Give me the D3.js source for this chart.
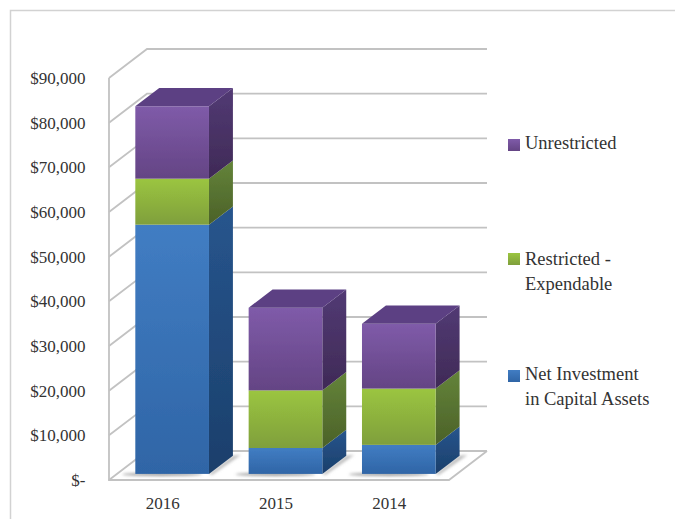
<!DOCTYPE html>
<html><head><meta charset="utf-8">
<script src="https://cdn.jsdelivr.net/npm/d3@7"></script>
<style>html,body{margin:0;padding:0;background:#fff}svg{display:block}text{font-family:"Liberation Serif",serif;fill:#333}</style>
</head><body><div id="c"></div>
<script>
const categories=["2016","2015","2014"];
const netInvestment=[55800,5800,6500];
const restricted=[10300,12900,12600];
const unrestricted=[16200,18500,14500];
const yTickValues=[0,10000,20000,30000,40000,50000,60000,70000,80000,90000];
const seriesNames=["Net Investment","Restricted","Unrestricted"];
const seriesValues=[netInvestment,restricted,unrestricted];
const palette=[
 {front:["#417dc3","#2f65a6"],side:["#27558d","#1b3f6b"]},
 {front:["#9bc540","#7f9f3c"],side:["#64843a","#4b6128"]},
 {front:["#7f5ba9","#644484"],side:["#523a74","#3f2a56"]}];
const topColor="#5b3f83";
const legendItems=[
 {lines:["Unrestricted"],s:2,y:145,t:149},
 {lines:["Restricted -","Expendable"],s:1,y:259,t:265},
 {lines:["Net Investment","in Capital Assets"],s:0,y:376,t:380}];

const W=675,H=519;
const svg=d3.select("#c").append("svg").attr("width",W).attr("height",H);
const defs=svg.append("defs");
defs.append("filter").attr("id","soft").append("feGaussianBlur").attr("stdDeviation",0.4);
defs.append("filter").attr("id","shadow").attr("x","-20%").attr("y","-200%").attr("width","140%").attr("height","500%").append("feGaussianBlur").attr("stdDeviation",1.5);
palette.forEach((p,i)=>["front","side"].forEach(k=>{
  const g=defs.append("linearGradient").attr("id",k+i).attr("x1",0).attr("y1",0).attr("x2",0).attr("y2",1);
  g.append("stop").attr("offset",0).attr("stop-color",p[k][0]);
  g.append("stop").attr("offset",1).attr("stop-color",p[k][1]);
}));

// frame
svg.append("path").attr("d",`M10.5,${H}V10.5H${W}`).attr("fill","none").attr("stroke","#d2d2d2").attr("stroke-width",1.5);

const x=d3.scaleBand().domain(categories).range([109,449]).padding(0);
const y=d3.scaleLinear().domain([0,90000]).range([480,78]);
const z=d3.scaleLinear().domain([0,1]).range([0,38]);
const zy=d3.scaleLinear().domain([0,1]).range([0,29]);
const barW=x.bandwidth()*0.65;
const z0=0.21,z1=0.84;
const X=(px,d)=>px+z(d);
const Y=(v,d)=>y(v)-zy(d);
const line=d3.line();
const root=svg.append("g").attr("filter","url(#soft)");

// walls
const grid=root.append("g").attr("fill","none").attr("stroke","#c2c2c2").attr("stroke-width",1.8);
yTickValues.forEach(v=>{
  grid.append("path").attr("d",line([[X(109,0),Y(v,0)],[X(109,1),Y(v,1)],[X(449,1),Y(v,1)]]));
});
grid.append("path").attr("d",line([[109,y(90000)],[109,y(0)],[449,y(0)],[X(449,1),Y(0,1)]]));

// bars
categories.forEach((c,i)=>{
  const g=root.append("g");
  const xl=x(c)+(x.bandwidth()-barW)/2-1.5, xr=xl+barW;
  g.append("ellipse").attr("cx",(xl+xr)/2-2).attr("cy",Y(0,z0)+0.5).attr("rx",barW/2+3).attr("ry",1.5).attr("fill","#9a9a9a").attr("filter","url(#shadow)");
  g.append("path").attr("d",line([[X(xr,z0),Y(0,z0)],[X(xr,z1),Y(0,z1)],[X(xr,z1)+8,Y(0,z1)-1],[X(xr,z0)+3,Y(0,z0)+1]])).attr("fill","#bbb").attr("filter","url(#shadow)");
  let cum=0;
  seriesValues.forEach((vals,s)=>{
    const a=cum,b=cum+vals[i];cum=b;
    g.append("path").attr("d",line([[X(xr,z0),Y(a,z0)],[X(xr,z1),Y(a,z1)],[X(xr,z1),Y(b,z1)],[X(xr,z0),Y(b,z0)]])+"Z").attr("fill",`url(#side${s})`);
    g.append("rect").attr("x",X(xl,z0)).attr("y",Y(b,z0)).attr("width",barW).attr("height",Y(a,z0)-Y(b,z0)).attr("fill",`url(#front${s})`);
  });
  g.append("path").attr("d",line([[X(xl,z0),Y(cum,z0)],[X(xr,z0),Y(cum,z0)],[X(xr,z1),Y(cum,z1)],[X(xl,z1),Y(cum,z1)]])+"Z").attr("fill",topColor);
});

// axes
const fmt=v=>v===0?"$-":"$"+d3.format(",")(v);
const yAxis=svg.append("g").attr("transform","translate(85.5,0)").call(d3.axisLeft(y).tickValues(yTickValues).tickFormat(fmt).tickSize(0).tickPadding(0));
yAxis.select(".domain").remove();
yAxis.selectAll("text").attr("font-size",17).attr("font-family","Liberation Serif");
const xAxis=svg.append("g").attr("transform","translate(0,497)").call(d3.axisBottom(x).tickSize(0).tickPadding(0));
xAxis.select(".domain").remove();
xAxis.selectAll("text").attr("font-size",17).attr("font-family","Liberation Serif").attr("dy","0.71em").attr("dx",-3);

// legend
const lg=svg.append("g");
legendItems.forEach(it=>{
  lg.append("rect").attr("x",508).attr("y",it.y-6).attr("width",12).attr("height",12).attr("fill",`url(#front${it.s})`);
  it.lines.forEach((t,j)=>lg.append("text").attr("x",525).attr("y",it.t+j*25).attr("font-size",18.5).text(t));
});
</script></body></html>
